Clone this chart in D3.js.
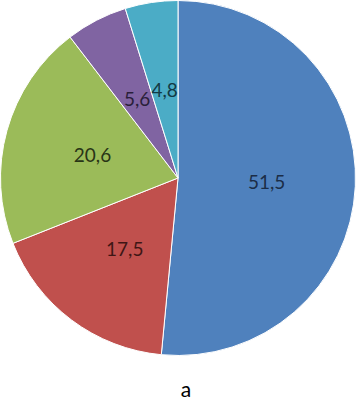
<!DOCTYPE html>
<html>
<head>
<meta charset="utf-8">
<script src="https://cdn.jsdelivr.net/npm/d3@7"></script>
<style>
  body { margin: 0; background: #fff; }
  text { font-family: Lato, "Open Sans", sans-serif; }
</style>
</head>
<body>
<div id="chart"></div>
<script>
// Chart data
var categories = ["A", "B", "C", "D", "E"];
var values = [51.5, 17.5, 20.6, 5.6, 4.8];
var valueLabels = ["51,5", "17,5", "20,6", "5,6", "4,8"];
var colors = ["#4f81bd", "#c0504d", "#9bbb59", "#8064a2", "#4bacc6"];
var labelColors = ["#1b2d47", "#3f1615", "#283416", "#2a1f3a", "#123a44"];
var caption = "a";

var svgWidth = 356;
var svgHeight = 401;
var cx = 178, cy = 178, radius = 177.5;

var svg = d3.select("#chart")
    .append("svg")
    .attr("width", svgWidth)
    .attr("height", svgHeight);

var pieGroup = svg.append("g")
    .attr("transform", `translate(${cx}, ${cy})`);

var pie = d3.pie()
    .sort(null)
    .value(d => d);

var arcs = pie(values);

var arc = d3.arc()
    .innerRadius(0)
    .outerRadius(radius);

var labelArc = d3.arc()
    .innerRadius(radius * 0.5)
    .outerRadius(radius * 0.5);

// Slices
pieGroup.selectAll("path")
    .data(arcs)
    .enter()
    .append("path")
    .attr("d", arc)
    .attr("fill", (d, i) => colors[i])
    .attr("stroke", "#fff")
    .attr("stroke-width", 1);

// Value labels
pieGroup.selectAll(".val")
    .data(arcs)
    .enter()
    .append("text")
    .attr("class", "val")
    .attr("transform", d => `translate(${labelArc.centroid(d)})`)
    .attr("text-anchor", "middle")
    .attr("dy", "0.38em")
    .attr("font-size", 19)
    .attr("fill", (d, i) => labelColors[i])
    .text((d, i) => valueLabels[i]);

// Caption
svg.append("text")
    .attr("x", 186)
    .attr("y", 397)
    .attr("text-anchor", "middle")
    .attr("font-size", 21)
    .attr("fill", "#000")
    .text(caption);
</script>
</body>
</html>
